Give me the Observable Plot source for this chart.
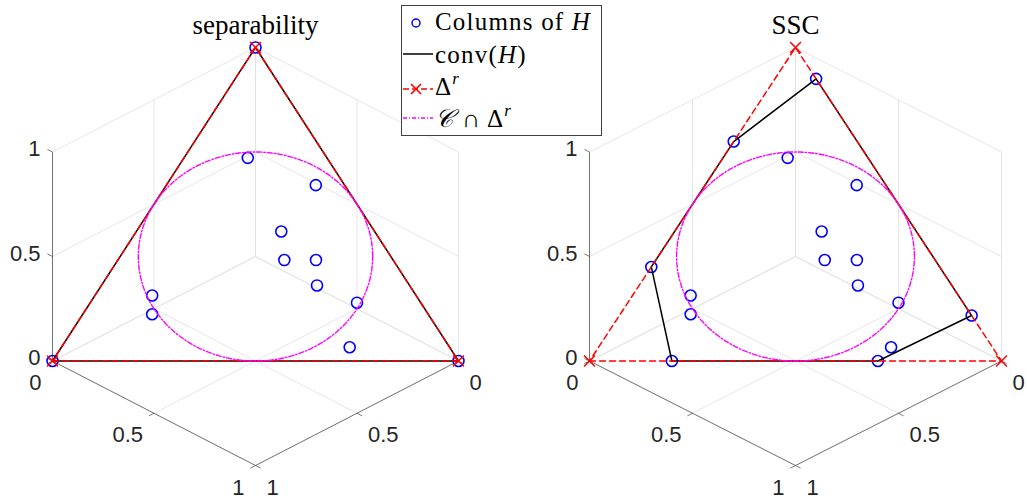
<!DOCTYPE html>
<html>
<head>
<meta charset="utf-8">
<script src="https://cdn.jsdelivr.net/npm/d3@7"></script>
<script src="https://cdn.jsdelivr.net/npm/@observablehq/plot@0.6"></script>
<style>
  body { margin: 0; background: #fff; }
  #wrap { position: relative; width: 1027px; height: 501px; overflow: hidden; }
  .panel { position: absolute; top: 0; height: 501px; }
  .panel svg { max-width: none !important; height: 501px !important; display: block; }
  #left { width: 520px; }
  #right { width: 507px; }
  #legend { position: absolute; left: 401px; top: 5px; width: 201px; height: 131px;
            box-sizing: border-box; border: 1px solid #404040; background: #fff; }
</style>
</head>
<body>
<div id="wrap">
  <div id="left" class="panel" style="left:0px"></div>
  <div id="right" class="panel" style="left:520px"></div>
  <div id="legend"></div>
</div>
<script>
// ---------------- data ----------------
const ticks = [0, 0.5, 1];
const tickText = ["0", "0.5", "1"];
const titles = ["separability", "SSC"];

// vertices of the unit simplex Delta^r (x = bottom-left, y = bottom-right, z = top)
const simplexVerts = [[1, 0, 0], [0, 1, 0], [0, 0, 1]];

// interior columns of H (shared by both panels), barycentric (x, y, z)
const innerCols = [
  [0.195, 0.157, 0.648],
  [0.071, 0.368, 0.561],
  [0.230, 0.357, 0.413],
  [0.268, 0.410, 0.322],
  [0.190, 0.488, 0.322],
  [0.228, 0.531, 0.241],
  [0.157, 0.657, 0.186],
  [0.246, 0.710, 0.044],
  [0.650, 0.141, 0.209],
  [0.680, 0.171, 0.149]
];

// separability: the vertices themselves are columns of H
const sepExtraCols = [[0, 0, 1], [1, 0, 0], [0, 1, 0]];
const sepHull = [[1, 0, 0], [0, 1, 0], [0, 0, 1]];

// SSC: boundary columns of H
const sscExtraCols = [
  [0.00, 0.10, 0.90],
  [0.30, 0.00, 0.70],
  [0.70, 0.00, 0.30],
  [0.80, 0.20, 0.00],
  [0.30, 0.70, 0.00],
  [0.00, 0.855, 0.145]
];
const sscHull = sscExtraCols;

// C ∩ Δ^r : inscribed circle, centre (1/3,1/3,1/3), radius 1/sqrt(6)
const circleCenter = [1 / 3, 1 / 3, 1 / 3];
const circleRadius = 1 / Math.sqrt(6);

// ---------------- projection (view along (1,1,1)) ----------------
const proj = ([x, y, z]) => ({u: y - x, v: z - (x + y) / 2});
const seg = (a, b) => { const p = proj(a), q = proj(b); return {u1: p.u, v1: p.v, u2: q.u, v2: q.v}; };

const gridSegs = [];
for (const t of ticks) {
  gridSegs.push(seg([t, 0, 0], [t, 1, 0]), seg([0, t, 0], [1, t, 0]));  // z = 0 plane
  gridSegs.push(seg([t, 0, 0], [t, 0, 1]), seg([0, 0, t], [1, 0, t]));  // y = 0 plane
  gridSegs.push(seg([0, t, 0], [0, t, 1]), seg([0, 0, t], [0, 1, t]));  // x = 0 plane
}
const axisSegs = [
  seg([1, 0, 0], [1, 0, 1]),
  seg([1, 0, 0], [1, 1, 0]),
  seg([0, 1, 0], [1, 1, 0])
];
const L = 0.025;
const tickSegs = [];
const zLabels = [], yLabels = [], xLabels = [];
ticks.forEach((t, i) => {
  tickSegs.push(seg([1, 0, t], [1, -L, t]));
  tickSegs.push(seg([1, t, 0], [1 + L, t, 0]));
  tickSegs.push(seg([t, 1, 0], [t, 1 + L, 0]));
  zLabels.push({...proj([1, 0, t]), s: tickText[i]});
  yLabels.push({...proj([1, t, 0]), s: tickText[i]});
  xLabels.push({...proj([t, 1, 0]), s: tickText[i]});
});

// circle points via orthonormal basis of the simplex plane
const e1 = [-1 / Math.SQRT2, 1 / Math.SQRT2, 0];
const e2 = [-1 / Math.sqrt(6), -1 / Math.sqrt(6), 2 / Math.sqrt(6)];
const circlePts = d3.range(0, 361, 2).map(deg => {
  const a = deg * Math.PI / 180;
  const p = [0, 1, 2].map(k => circleCenter[k] + circleRadius * (Math.cos(a) * e1[k] + Math.sin(a) * e2[k]));
  return proj(p);
});

const closed = arr => [...arr, arr[0]].map(proj);
const serif = "'Liberation Serif', 'Times New Roman', serif";

function panel(title, cols, hull, W, mL, mR) {
  return Plot.plot({
    width: W,
    height: 501,
    marginLeft: mL, marginRight: mR, marginTop: 47, marginBottom: 36,
    x: {domain: [-1, 1], axis: null},
    y: {domain: [-1, 1], axis: null},
    style: {background: "transparent", overflow: "visible", fontFamily: "'Liberation Sans', Arial, sans-serif"},
    marks: [
      Plot.link(gridSegs, {x1: "u1", y1: "v1", x2: "u2", y2: "v2", stroke: "#e0e0e0", strokeWidth: 0.8}),
      Plot.link(axisSegs, {x1: "u1", y1: "v1", x2: "u2", y2: "v2", stroke: "#404040", strokeWidth: 0.7}),
      Plot.link(tickSegs, {x1: "u1", y1: "v1", x2: "u2", y2: "v2", stroke: "#404040", strokeWidth: 0.7}),
      Plot.text(zLabels, {x: "u", y: "v", text: "s", textAnchor: "end", dx: -12, dy: -3, fontSize: 22, fill: "#262626"}),
      Plot.text(yLabels, {x: "u", y: "v", text: "s", textAnchor: "end", dx: -11, dy: 22, fontSize: 22, fill: "#262626"}),
      Plot.text(xLabels, {x: "u", y: "v", text: "s", textAnchor: "start", dx: 11, dy: 22, fontSize: 22, fill: "#262626"}),
      Plot.dot(cols.map(proj), {x: "u", y: "v", r: 5.5, stroke: "#0000ff", strokeWidth: 1.6, fill: "none"}),
      Plot.line(closed(hull), {x: "u", y: "v", stroke: "#000", strokeWidth: 1.5}),
      Plot.line(closed(simplexVerts), {x: "u", y: "v", stroke: "#ff0000", strokeWidth: 1.5, strokeDasharray: "6,4"}),
      Plot.dot(simplexVerts.map(proj), {x: "u", y: "v", symbol: "times", r: 5, stroke: "#ff0000", strokeWidth: 1.5}),
      Plot.line(circlePts, {x: "u", y: "v", stroke: "#ff00ff", strokeWidth: 1.4, strokeDasharray: "5,2,1.5,2"}),
      Plot.text([title], {x: 0, y: 1, text: d => d, dy: -14, lineAnchor: "bottom", fontSize: 27,
                          fontFamily: serif, fill: "#000"})
    ]
  });
}

const leftSvg = panel(titles[0], [...sepExtraCols, ...innerCols], sepHull, 520, 52, 62);
const rightSvg = panel(titles[1], [...sscExtraCols, ...innerCols], sscHull, 507, 69, 26);
document.getElementById("left").appendChild(leftSvg);
document.getElementById("right").appendChild(rightSvg);
for (const s of [leftSvg, rightSvg]) {
  s.querySelectorAll("text").forEach(t => { if (t.getAttribute("font-size") === "27") t.setAttribute("letter-spacing", "0.8"); });
}

// ---------------- legend ----------------
document.getElementById("legend").innerHTML = `
<svg width="199" height="129" style="font-family:'Liberation Serif','DejaVu Serif',serif;font-size:25px;letter-spacing:1.2px">
  <circle cx="14" cy="17" r="4" fill="none" stroke="#0000ff" stroke-width="1.5"/>
  <text x="33" y="24">Columns of <tspan font-style="italic">H</tspan></text>
  <line x1="1" x2="31" y1="48" y2="48" stroke="#000" stroke-width="1.5"/>
  <text x="33" y="57">conv(<tspan font-style="italic">H</tspan>)</text>
  <line x1="1" x2="31" y1="83" y2="83" stroke="#ff0000" stroke-width="1.5" stroke-dasharray="6,3"/>
  <path d="M9,78L19,88M9,88L19,78" stroke="#ff0000" stroke-width="1.6"/>
  <text x="33" y="89">Δ<tspan font-style="italic" font-size="17" dy="-11">r</tspan></text>
  <line x1="1" x2="31" y1="112" y2="112" stroke="#ff00ff" stroke-width="1.3" stroke-dasharray="4,2,1,2"/>
  <text x="33" y="121"><tspan font-style="italic">𝒞</tspan> ∩ Δ<tspan font-style="italic" font-size="17" dy="-11">r</tspan></text>
</svg>`;
</script>
</body>
</html>
